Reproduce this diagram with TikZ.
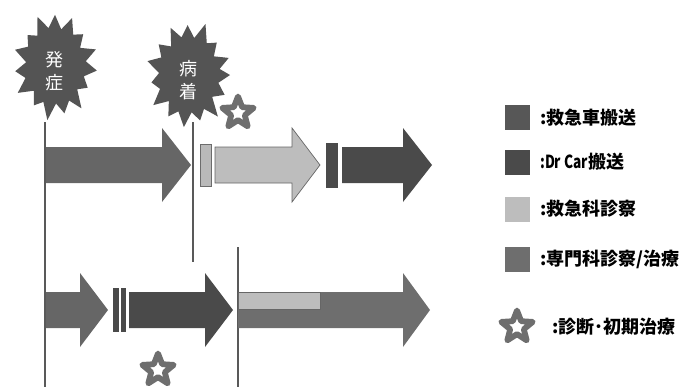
\documentclass[tikz,border=0pt]{standalone}
\usepackage{fontspec}
\setmainfont{Noto Sans CJK JP}
\newfontfamily\narrowlat{Noto Sans CJK JP}[FakeStretch=0.76]
\usetikzlibrary{shapes.geometric}
\definecolor{burstc}{gray}{0.33}
\definecolor{ambc}{gray}{0.40}
\definecolor{drc}{gray}{0.29}
\definecolor{erc}{gray}{0.74}
\definecolor{specc}{gray}{0.43}
\definecolor{linec}{gray}{0.35}
\newcommand\tlarrow[6]{% x0, xh, xt, yc, style, name
  \fill[#5] (#1,#4-18) -- (#2,#4-18) -- (#2,#4-37) -- (#3,#4) -- (#2,#4+37) -- (#2,#4+18) -- (#1,#4+18) -- cycle;
  \coordinate (#6) at (#3,#4);}
\tikzset{
  burst/.style={fill=burstc},
  bursttext/.style={text=white, font=\fontsize{18}{23}\selectfont, align=center, inner sep=0pt},
  vline/.style={draw=linec, line width=1.3pt},
  ostar/.style={star, star points=5, star point ratio=2.3, draw=specc, line width=5.8pt, line join=round, fill=white, minimum size=33pt, inner sep=0pt},
  lsq/.style={minimum size=25pt, inner sep=0pt},
  ltext/.style={anchor=west, font=\fontsize{18}{22}\selectfont\bfseries, inner sep=0pt},
  bar/.style={inner sep=0pt}
}
\begin{document}
\begin{tikzpicture}[x=1pt,y=-1pt]
\useasboundingbox (0,0) rectangle (688,391);
% bursts
\fill[burst, shift={(55,66)}, yscale=1.25]
 (5:42) -- (16:30) -- (28:37) -- (40:29) -- (52:43) -- (63:31) -- (76:39) -- (88:30) -- (100:44) -- (112:31) -- (124:38) -- (137:29) -- (150:43) -- (162:31) -- (174:40) -- (186:29) -- (198:42) -- (210:31) -- (222:37) -- (234:30) -- (246:43) -- (258:31) -- (270:41) -- (282:30) -- (294:42) -- (306:31) -- (318:38) -- (330:29) -- (342:43) -- (353:31) -- cycle;
\node[bursttext] (onset) at (54,71) {発\\症};
\fill[burst, shift={(189,75)}, yscale=1.25]
 (0:41) -- (12:30) -- (24:39) -- (37:29) -- (49:44) -- (61:31) -- (73:38) -- (85:30) -- (97:42) -- (110:31) -- (122:39) -- (134:29) -- (146:43) -- (159:31) -- (171:38) -- (183:30) -- (195:43) -- (207:31) -- (219:39) -- (232:29) -- (244:42) -- (256:31) -- (268:40) -- (280:30) -- (292:44) -- (305:31) -- (317:38) -- (329:29) -- (341:42) -- (351:31) -- cycle;
\node[bursttext] (arrive) at (188,80) {病\\着};
% lines
\coordinate (l1t) at (45,122); \coordinate (l1b) at (45,387);
\coordinate (l2t) at (193,122); \coordinate (l2b) at (193,262);
\coordinate (l3t) at (238,247); \coordinate (l3b) at (238,387);
\draw[vline] (l1t) -- (l1b);
\draw[vline] (l2t) -- (l2b);
\draw[vline] (l3t) -- (l3b);
% top row
\tlarrow{46}{162}{191}{165}{ambc}{a1}
\node[bar, fill=gray!55, draw=gray!85!black, line width=0.8pt, minimum width=11pt, minimum height=42pt] (b1) at (206,165.5) {};
\tlarrow{215}{292}{320}{165}{erc, draw=gray!80!black, line width=0.7pt}{a2}
\node[bar, fill=drc, minimum width=12pt, minimum height=45pt] (b2) at (332,165.5) {};
\tlarrow{342}{403}{432}{165}{drc}{a3}
\node[ostar] (s1) at (238,113) {};
% bottom row
\tlarrow{46}{80}{108}{310}{ambc}{a4}
\node[bar, fill=drc, minimum width=6pt, minimum height=44pt] (b3) at (116,310) {};
\node[bar, fill=drc, minimum width=5.5pt, minimum height=44pt] (b4) at (123.5,310) {};
\tlarrow{129}{205}{233}{310}{drc}{a5}
\tlarrow{238}{403}{430}{310}{specc}{a6}
\node[bar, fill=erc, draw=gray!80!black, line width=0.7pt, minimum width=82pt, minimum height=17pt, anchor=north west] (b5) at (238,292) {};
\node[ostar] (s2) at (158,370) {};
% legend
\node[lsq, fill=ambc!85!black] (k1) at (517.5,117.5) {};
\node[ltext] (t1) at (540,117.5) {:救急車搬送};
\node[lsq, fill=drc] (k2) at (517.5,162) {};
\node[ltext] (t2) at (540,162) {{\narrowlat\bfseries :Dr Car}搬送};
\node[lsq, fill=erc] (k3) at (517.5,209) {};
\node[ltext] (t3) at (540,209) {:救急科診察};
\node[lsq, fill=specc] (k4) at (517.5,259) {};
\node[ltext] (t4) at (540,259) {:専門科診察/治療};
\node[ostar] (k5) at (517,327) {};
\node[ltext] (t5) at (552,327) {:診断･初期治療};
\end{tikzpicture}
\end{document}
